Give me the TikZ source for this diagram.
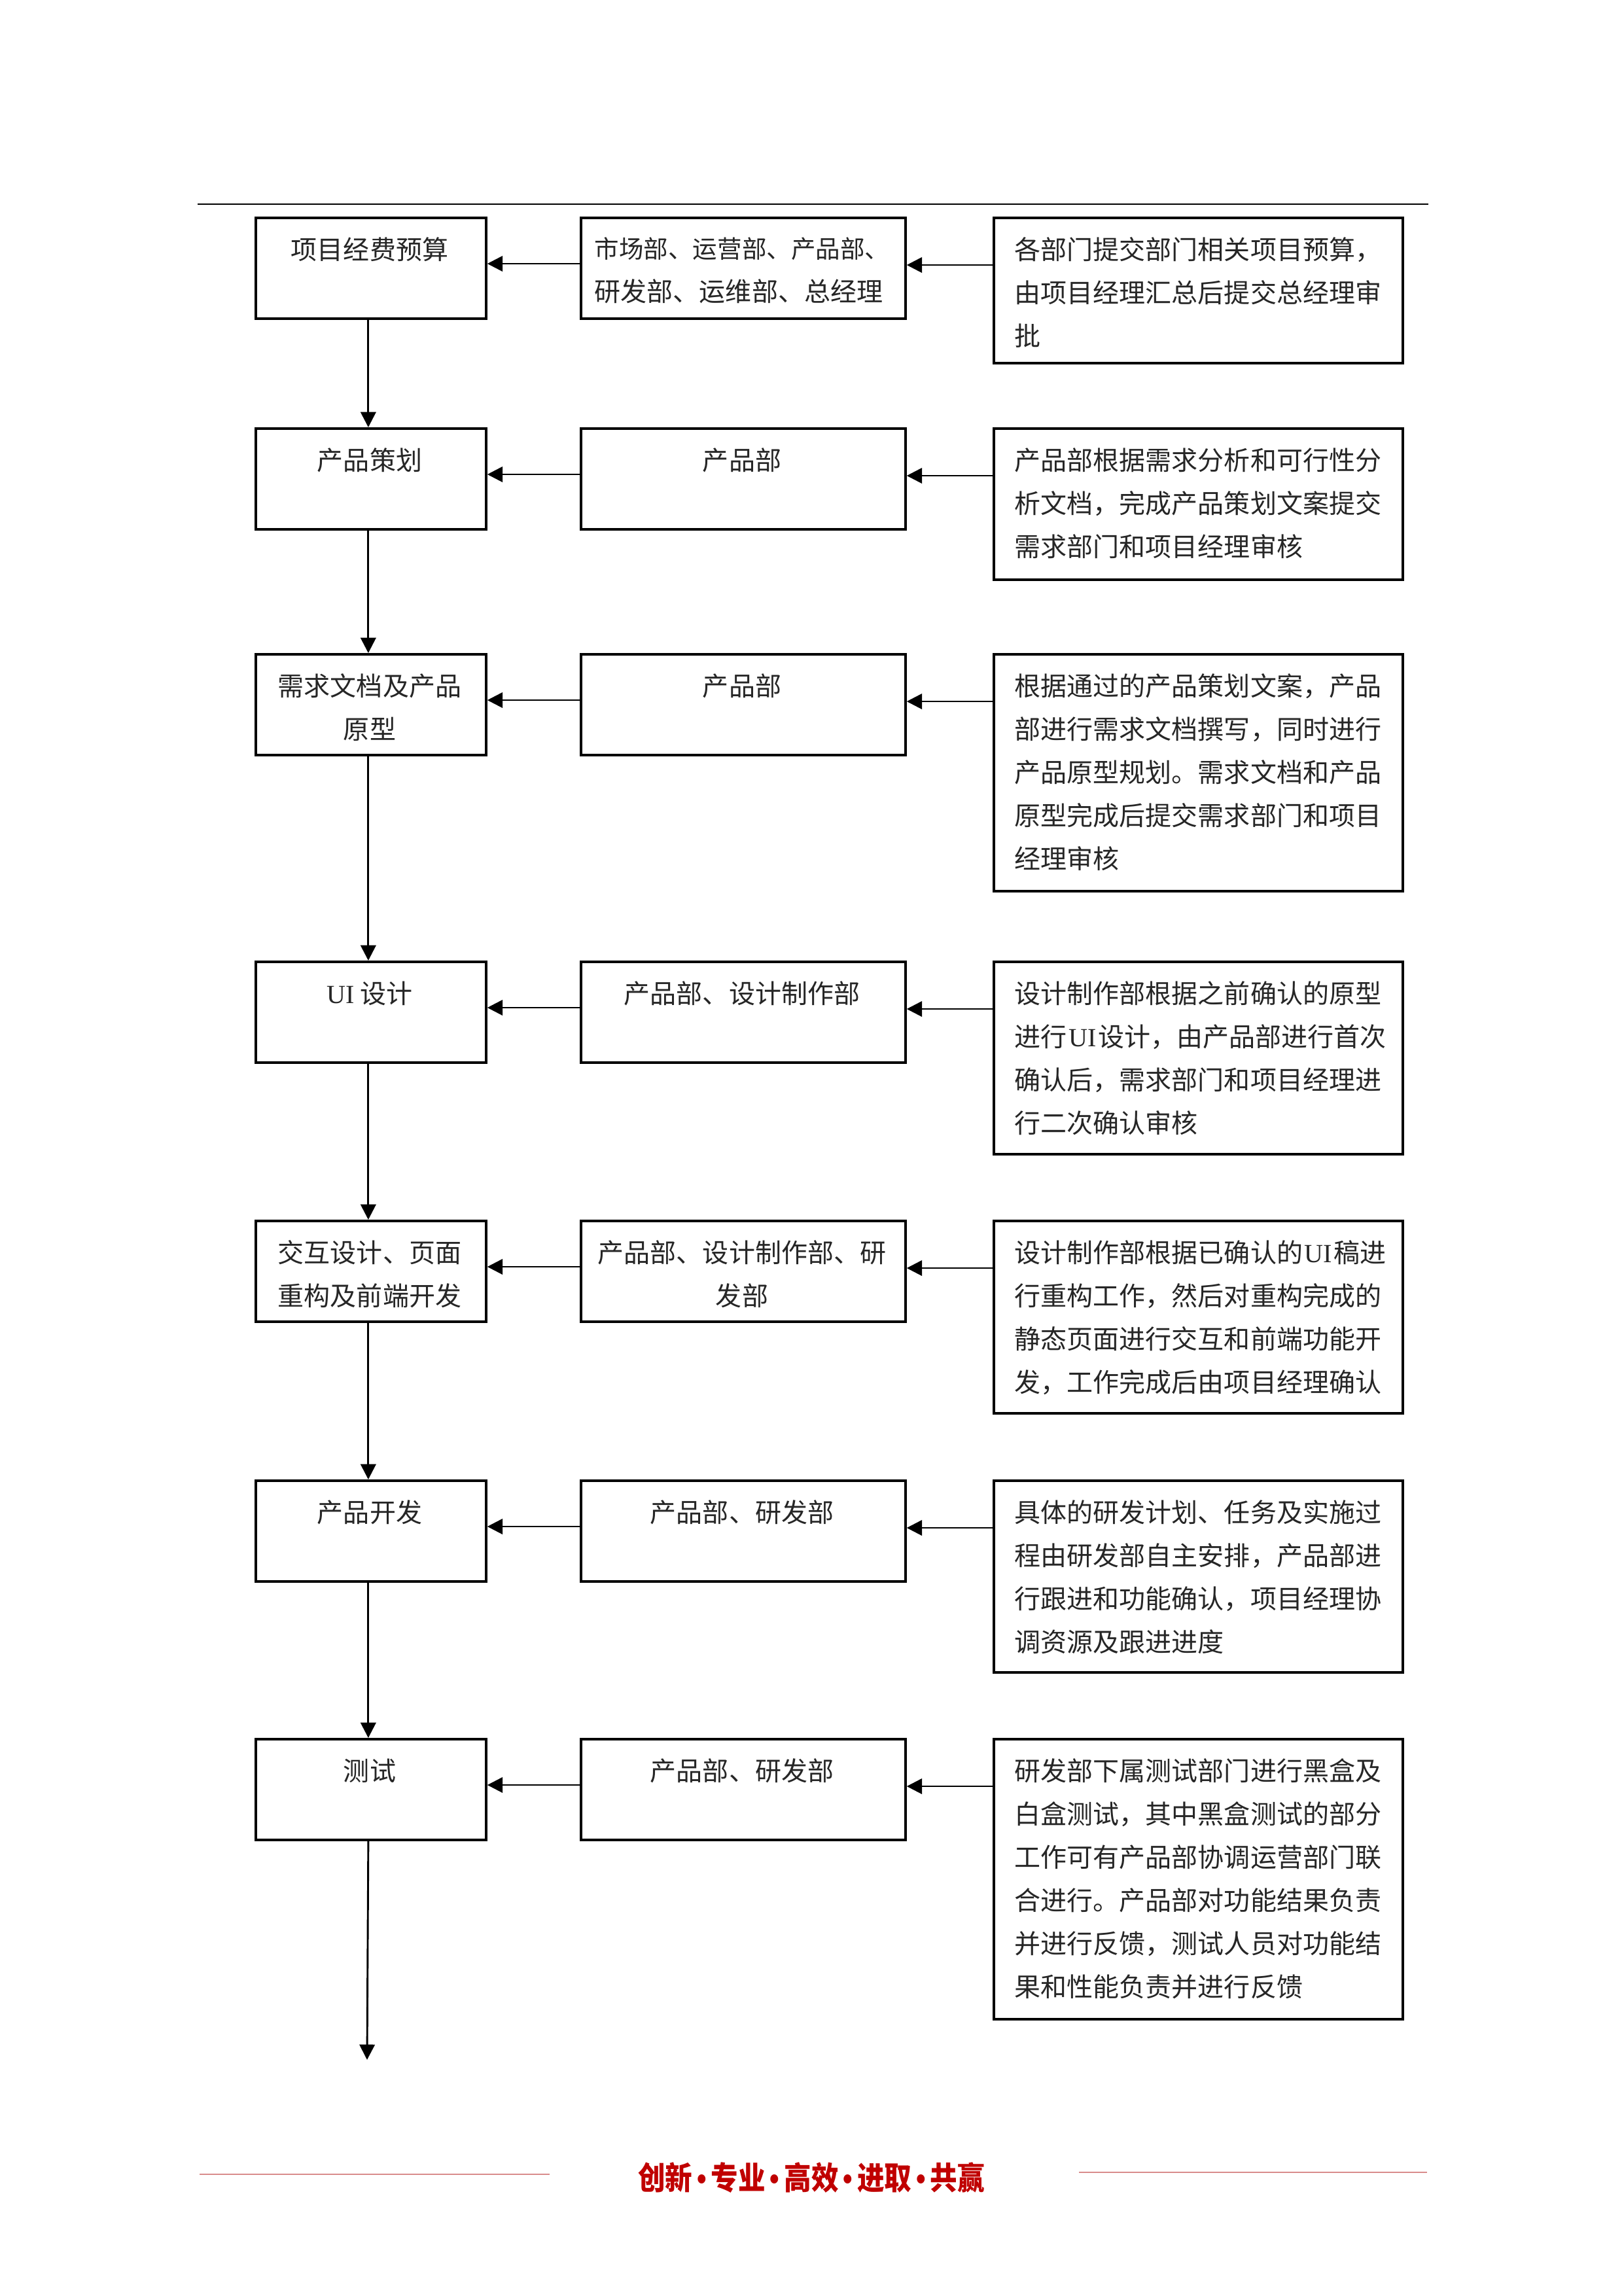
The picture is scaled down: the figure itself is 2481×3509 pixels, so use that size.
\documentclass[tikz,border=0pt]{standalone}
\usepackage{fontspec}
\usetikzlibrary{arrows.meta}
\newfontfamily\cjk{Noto Sans CJK SC}
\newfontfamily\lat{Liberation Serif}
\newfontfamily\libsans{Liberation Sans}
\definecolor{footred}{HTML}{C00000}
\definecolor{footline}{HTML}{D98C8C}
\definecolor{txtgray}{HTML}{262626}
\def\PX{0.2399pt}
\newcommand\UIw{{\lat\kern0.6pt UI\kern0.6pt}}
\newcommand\fdot{{\libsans\bfseries\,•\,}}
\tikzset{
  box/.style={draw, line width=0.9pt, rectangle, inner sep=0pt, anchor=north west},
  txt/.style={inner sep=0pt, text=txtgray, font=\cjk\fontsize{9.6}{15.83}\selectfont},
  arr/.style={-{Triangle[width=5.6pt,length=5.6pt]}, line width=0.7pt},
  redline/.style={draw=footline, line width=0.6pt},
}
\newcommand\FlowRow[7]{%
  \node[box, minimum width=352*\PX, minimum height=154*\PX] (a#1) at (389,#2) {};
  \node[box, minimum width=496*\PX, minimum height=154*\PX] (b#1) at (886,#2) {};
  \node[box, minimum width=625*\PX, minimum height=#3*\PX] (c#1) at (1517,#2) {};
  \node[txt, anchor=north, align=center] (ta#1) at (565,#2+31) {#4};
  \node[txt, anchor=north, align=#7] (tb#1) at (1134,#2+31) {#5};
  \node[txt, anchor=north west, align=left] (tc#1) at (1550,#2+31) {#6};
  \draw[arr] ([yshift=-74*\PX]c#1.north west) -- ([yshift=-74*\PX]b#1.north east);
  \draw[arr] ([yshift=-72*\PX]b#1.north west) -- ([yshift=-72*\PX]a#1.north east);
}
\begin{document}
\begin{tikzpicture}[x=0.2399pt, y=-0.2399pt]
\useasboundingbox (0,0) rectangle (2481,3509);
\fill[white] (0,0) rectangle (2481,3509);
% header rule
\draw[line width=0.7pt] (302,312) -- (2183,312);

\FlowRow{1}{331}{222}{项目经费预算}{\fontsize{9.0}{15.83}\selectfont 市场部、运营部、产品部、\\研发部、运维部、总经理}{各部门提交部门相关项目预算，\\由项目经理汇总后提交总经理审\\批}{left}
\FlowRow{2}{653}{231}{产品策划}{产品部}{产品部根据需求分析和可行性分\\析文档，完成产品策划文案提交\\需求部门和项目经理审核}{center}
\FlowRow{3}{998}{362}{需求文档及产品\\原型}{产品部}{根据通过的产品策划文案，产品\\部进行需求文档撰写，同时进行\\产品原型规划。需求文档和产品\\原型完成后提交需求部门和项目\\经理审核}{center}
\FlowRow{4}{1468}{294}{{\lat UI} 设计}{产品部、设计制作部}{设计制作部根据之前确认的原型\\进行\UIw 设计，由产品部进行首次\\确认后，需求部门和项目经理进\\行二次确认审核}{center}
\FlowRow{5}{1864}{294}{交互设计、页面\\重构及前端开发}{产品部、设计制作部、研\\发部}{设计制作部根据已确认的\UIw 稿进\\行重构工作，然后对重构完成的\\静态页面进行交互和前端功能开\\发，工作完成后由项目经理确认}{center}
\FlowRow{6}{2261}{293}{产品开发}{产品部、研发部}{具体的研发计划、任务及实施过\\程由研发部自主安排，产品部进\\行跟进和功能确认，项目经理协\\调资源及跟进进度}{center}
\FlowRow{7}{2656}{428}{测试}{产品部、研发部}{研发部下属测试部门进行黑盒及\\白盒测试，其中黑盒测试的部分\\工作可有产品部协调运营部门联\\合进行。产品部对功能结果负责\\并进行反馈，测试人员对功能结\\果和性能负责并进行反馈}{center}

\coordinate (flowend) at (561,3148);
\draw[arr] ([xshift=-4*\PX]a1.south) -- ([xshift=-4*\PX]a2.north);
\draw[arr] ([xshift=-4*\PX]a2.south) -- ([xshift=-4*\PX]a3.north);
\draw[arr] ([xshift=-4*\PX]a3.south) -- ([xshift=-4*\PX]a4.north);
\draw[arr] ([xshift=-4*\PX]a4.south) -- ([xshift=-4*\PX]a5.north);
\draw[arr] ([xshift=-4*\PX]a5.south) -- ([xshift=-4*\PX]a6.north);
\draw[arr] ([xshift=-4*\PX]a6.south) -- ([xshift=-4*\PX]a7.north);
\draw[arr] ([xshift=-4*\PX]a7.south) -- (flowend);

% footer
\draw[redline] (305,3323) -- (840,3323);
\draw[redline] (1649,3320) -- (2181,3320);
\node[inner sep=0pt, text=footred, xscale=0.86, font=\cjk\bfseries\fontsize{11.6}{13}\selectfont] (footer) at (1240,3328) {创新\fdot 专业\fdot 高效\fdot 进取\fdot 共赢};
\end{tikzpicture}
\end{document}
